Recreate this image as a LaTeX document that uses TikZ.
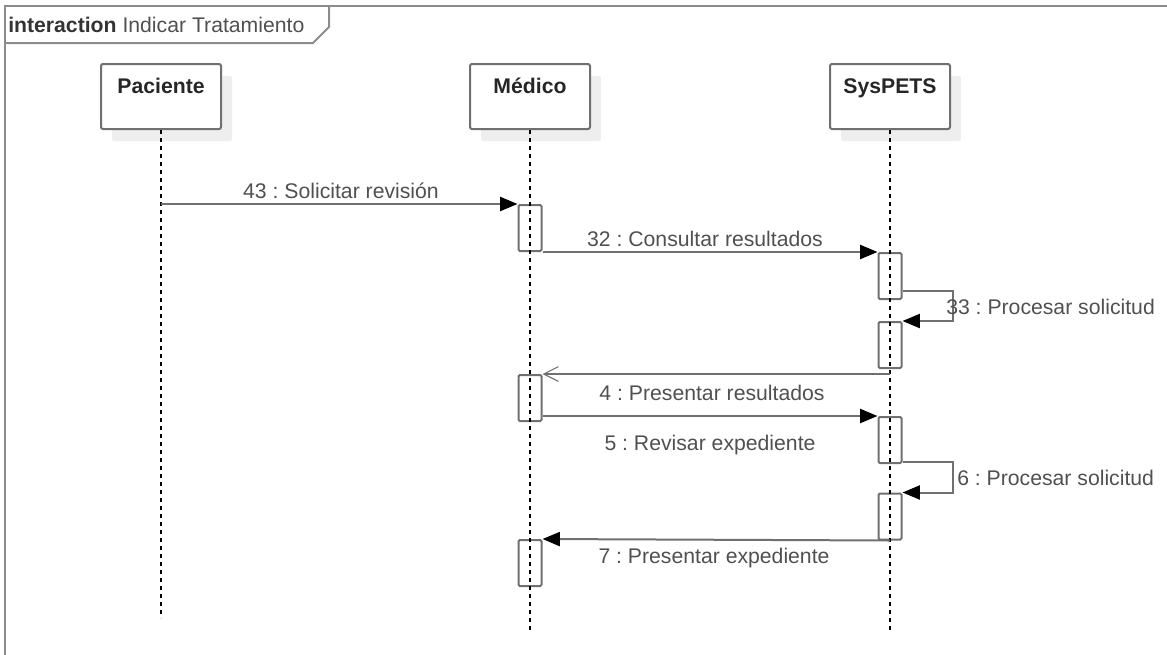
\documentclass[tikz,border=0pt]{standalone}
\usepackage{fontspec}
\setmainfont{Liberation Sans}
\usetikzlibrary{arrows.meta,positioning,calc,shadows}
\frenchspacing
\definecolor{grisLinea}{RGB}{112,112,112}
\definecolor{grisMarco}{RGB}{140,140,140}
\definecolor{grisTexto}{RGB}{80,80,80}
\definecolor{grisSombra}{RGB}{238,238,238}
\tikzset{
  caja/.style={rectangle, draw=grisLinea, line width=1.5pt, fill=white,
               rounded corners=1.5pt, minimum width=90pt, minimum height=48.75pt,
               text height=11.5pt, text depth=15.3pt, text=black!85,
               font=\fontsize{15.9}{19}\selectfont\bfseries,
               general shadow={fill=grisSombra, shadow xshift=8.25pt, shadow yshift=-9pt}},
  activ/.style={rectangle, draw=grisLinea, line width=1.5pt, fill=white,
                rounded corners=1pt, minimum width=17.25pt, minimum height=34.5pt,
                inner sep=0pt},
  vida/.style={black, line width=0.8pt, dash pattern=on 3pt off 3pt},
  marco/.style={grisMarco, line width=1.5pt},
  mensaje/.style={-{Triangle[length=13pt, width=10.5pt, color=black]}, line width=1.5pt, grisLinea},
  retorno/.style={-{Straight Barb[length=11pt, width=11pt, line width=0.8pt]}, line width=1.5pt, grisLinea},
  etiqueta/.style={font=\fontsize{15.9}{19}\selectfont, text=grisTexto, inner sep=0pt},
}

\begin{document}
\begin{tikzpicture}[x=0.75pt, y=-0.75pt]
  \useasboundingbox (0,0) rectangle (1167,654);
  % marco de la interaccion
  \draw[marco] (5,660) -- (5,6) -- (1170,6);
  \draw[marco] (5,43) -- (313,43) -- (329,27) -- (329,6);
  \node[etiqueta, anchor=west] (titulo) at (8,25)
       {\textcolor{black!80}{\bfseries interaction} Indicar Tratamiento};
  % participantes
  \node[caja] (pac) at (161,96.5) {Paciente};
  \node[caja] (med) at (530,96.5) {Médico};
  \node[caja] (sys) at (890,96.5) {SysPETS};
  \coordinate (pacfin) at (161,618);
  \coordinate (medfin) at (530,630);
  \coordinate (sysfin) at (890,630);
  % activaciones
  \node[activ] (m1) at (530,228) {};
  \node[activ] (s1) at (890,276) {};
  \node[activ] (s2) at (890,345) {};
  \node[activ] (m2) at (530,398) {};
  \node[activ] (s3) at (890,440) {};
  \node[activ] (s4) at (890,516.5) {};
  \node[activ] (m3) at (530,563) {};
  % lineas de vida
  \draw[vida] (pac.south) -- (pacfin);
  \draw[vida] (med.south) -- (medfin);
  \draw[vida] (sys.south) -- (sysfin);
  % mensajes
  \draw[mensaje] (pac |- m1.north) -- (m1.north west);
  \draw[mensaje] (s1.north west -| m1.east) -- (s1.north west);
  \draw[mensaje] ($(s1.south east)+(0,-9)$) -- ++(50,0) |- (s2.north east);
  \draw[retorno] (m2.north -| sys) -- (m2.north east);
  \draw[mensaje] (s3.north west -| m2.east) -- (s3.north west);
  \draw[mensaje] ($(s3.south east)+(0,-2.5)$) -- ++(50,0) |- (s4.north east);
  \draw[mensaje] (s4.south) -- (m3.north east);
  % etiquetas
  \node[etiqueta] (e43) at (341,191) {43 : Solicitar revisión};
  \node[etiqueta] (e32) at (705,239) {32 : Consultar resultados};
  \node[etiqueta, anchor=west] (e33) at (946,307) {33 : Procesar solicitud};
  \node[etiqueta] (e4) at (712,393) {4 : Presentar resultados};
  \node[etiqueta] (e5) at (710,445) {5 : Revisar expediente};
  \node[etiqueta, anchor=west] (e6) at (957,478) {6 : Procesar solicitud};
  \node[etiqueta] (e7) at (714,558) {7 : Presentar expediente};
\end{tikzpicture}
\end{document}
